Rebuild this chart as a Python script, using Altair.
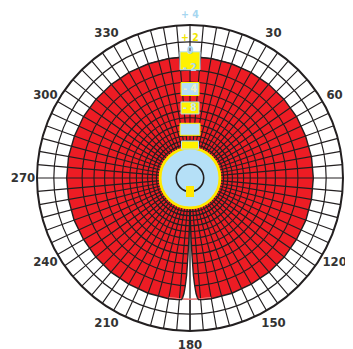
import math
import altair as alt
import pandas as pd

# ---------------- data ----------------
pattern_angle = [0, 10, 20, 30, 40, 50, 60, 70, 80, 90, 100, 110, 120, 130, 140, 150, 160, 170,
                 174, 176, 176.5, 177, 177.5, 178, 178.5, 179, 179.5, 180,
                 180.5, 181, 181.5, 182, 182.5, 183, 183.5, 184, 186,
                 190, 200, 210, 220, 230, 240, 250, 260, 270, 280, 290, 300, 310, 320, 330, 340, 350]
pattern_db = [0.0, 0.02, 0.05, 0.1, 0.15, 0.2, 0.25, 0.25, 0.3, 0.3, 0.3, 0.3, 0.25, 0.25, 0.25, 0.2, 0.2, 0.2,
              0.15, 0.1, -0.2, -0.8, -2.0, -3.8, -7.5, -12, -18, -24,
              -18, -12, -7.5, -3.8, -2.0, -0.8, -0.2, 0.1, 0.15,
              0.2, 0.2, 0.2, 0.25, 0.25, 0.25, 0.3, 0.3, 0.3, 0.3, 0.25, 0.25, 0.2, 0.15, 0.1, 0.05, 0.02]

grid_db_inner = [-2, -4, -6, -8, -10, -12, -14, -16, -18, -20, -22]
grid_db_ring = [0, 2]
spoke_angle = list(range(0, 360, 5))

compass_angle = [30, 60, 90, 120, 150, 180, 210, 240, 270, 300, 330]
compass_label = ["30", "60", "90", "120", "150", "180", "210", "240", "270", "300", "330"]

scale_label = ["+ 4", "+ 2", "0", "- 2", "- 4", "- 8"]
scale_label_db = [4, 2, 0, -2, -4, -8]
box_db = [0, -4, -8, -16, -24]

INNER_DB = -24
OUTER_DB = 4
NULL_FROM, NULL_TO = 176, 184

# ---------------- styles ----------------
SIZE = 306
RED = "#ed1c24"
LINE = "#231f20"
YEL = "#fff200"
LBLUE = "#b5e0f7"
TXT = "#333333"
FONT = "Liberation Sans Narrow, DejaVu Sans Condensed, Arial Narrow, sans-serif"

# label styles: colour, radial offset in px (outward positive)
label_style = {
    "+ 4": ("#a6d6f0", 10),
    "+ 2": ("#f2e600", 4),
    "0": ("#a6d6f0", 6),
    "- 2": ("#a6d6f0", 2),
    "- 4": ("#eef3c4", -7),
    "- 8": ("#c4e4f2", -6),
}
# box styles: fill, stroke, width, height, radial offset in px
box_style = {
    0: (YEL, LBLUE, 20, 18, -4),
    -4: (LBLUE, YEL, 18, 13, -7),
    -8: (YEL, LBLUE, 18, 12, -6),
    -16: (LBLUE, YEL, 20, 12, 1),
    -24: (YEL, LBLUE, 17, 8, 3),
}


def amp(expr):
    return f"pow(0.89, -({expr}) / 2)"


RMAX = 0.89 ** (-OUTER_DB / 2)
theta_sc = alt.Scale(type="linear", domain=[0, 360], range=[0, 2 * math.pi])
r_sc = alt.Scale(type="linear", domain=[0, RMAX], range=[0, SIZE / 2], zero=True, nice=False)
x_sc = alt.Scale(type="linear", domain=[-RMAX, RMAX], zero=False, nice=False)
y_sc = alt.Scale(type="linear", domain=[-RMAX, RMAX], zero=False, nice=False)


def arc_enc(t0, t1, r_outer, r_inner):
    return dict(
        theta=alt.Theta(f"{t0}:Q", scale=theta_sc, stack=False),
        theta2=alt.Theta2(t1),
        radius=alt.Radius(f"{r_outer}:Q", scale=r_sc),
        radius2=alt.Radius2(r_inner),
    )


def xy_enc(xf, yf):
    return dict(x=alt.X(f"{xf}:Q", scale=x_sc, axis=None),
                y=alt.Y(f"{yf}:Q", scale=y_sc, axis=None))


pat_df = pd.DataFrame({"angle": pattern_angle, "db": pattern_db})
pat = alt.Chart(pat_df).transform_calculate(a=amp("datum.db")).transform_calculate(
    px="datum.a * sin(datum.angle * PI / 180)",
    py="datum.a * cos(datum.angle * PI / 180)")


def circles(dbs, color, width):
    return alt.Chart(pd.DataFrame({"db": dbs})).transform_calculate(
        a=amp("datum.db"), t0="0", t1="360"
    ).mark_arc(fill="white", fillOpacity=0, stroke=color, strokeWidth=width).encode(
        **arc_enc("t0", "t1", "a", "a"))


spokes_base = alt.Chart(pd.DataFrame({"angle": spoke_angle})).transform_calculate(
    a0=amp(INNER_DB), a1=amp(OUTER_DB))

layers = []
# ring circles (0 dB drawn under the red pattern)
layers.append(circles(grid_db_ring, LINE, 1.2))
# red pattern fill
layers.append(pat.mark_line(interpolate="linear-closed", fill=RED, strokeOpacity=0).encode(
    order="angle:Q", **xy_enc("px", "py")))
# grid inside pattern
layers.append(circles(grid_db_inner, LINE, 1.15))
layers.append(spokes_base.mark_arc(fill="white", fillOpacity=0, stroke=LINE, strokeWidth=1.15).encode(
    **arc_enc("angle", "angle", "a1", "a0")))
# white null gap
layers.append(pat.transform_filter(
    f"datum.angle >= {NULL_FROM} && datum.angle <= {NULL_TO}"
).mark_line(interpolate="linear-closed", fill="white", strokeOpacity=0).encode(
    order="angle:Q", **xy_enc("px", "py")))
# 180 spoke through the gap
layers.append(spokes_base.transform_filter("datum.angle == 180").mark_arc(
    fill="white", fillOpacity=0, stroke=LINE, strokeWidth=1.3).encode(
    **arc_enc("angle", "angle", "a1", "a0")))
# faint red 0 dB circle visible in the gap
layers.append(alt.Chart(pd.DataFrame({"db": [0]})).transform_calculate(
    a=amp("datum.db"), t0="170", t1="190"
).mark_arc(fill="white", fillOpacity=0, stroke="#f07070", strokeWidth=0.9).encode(
    **arc_enc("t0", "t1", "a", "a")))
# pattern outline
layers.append(pat.mark_line(interpolate="linear-closed", stroke=LINE, strokeWidth=1.4).encode(
    order="angle:Q", **xy_enc("px", "py")))
# outer circle
layers.append(circles([OUTER_DB], LINE, 2.0))

# centre: light blue disc and yellow ring at the inner level
centre = alt.Chart(pd.DataFrame({"db": [INNER_DB]})).transform_calculate(
    a=amp("datum.db"), z="0", t0="0", t1="360")
layers.append(centre.mark_arc(fill=LBLUE, stroke="#6b7a3a", strokeWidth=0.6).encode(
    **arc_enc("t0", "t1", "a", "z")))
layers.append(centre.mark_arc(fill="white", fillOpacity=0, stroke="#ffe800", strokeWidth=2.8).encode(
    **arc_enc("t0", "t1", "a", "a")))

origin = alt.Chart(pd.DataFrame({"cx": [0], "cy": [0]}))
layers.append(origin.mark_point(shape="circle", size=750, filled=False, stroke=LINE,
                                strokeWidth=1.6, opacity=1).encode(**xy_enc("cx", "cy")))
layers.append(origin.mark_point(shape="M-0.73,-1L0.73,-1L0.73,1L-0.73,1Z", size=121, filled=True,
                                fill="#ffe600", strokeWidth=0, opacity=1, yOffset=13.5).encode(
    **xy_enc("cx", "cy")))

# scale boxes
box_df = pd.DataFrame({"db": box_db})
for d in box_db:
    fillc, strokec, w, h, off = box_style[d]
    k = h / w
    layers.append(alt.Chart(box_df).transform_filter(f"datum.db == {d}").transform_calculate(
        bx="0", by=amp("datum.db")
    ).mark_point(shape=f"M-1,-{k:.3f}L1,-{k:.3f}L1,{k:.3f}L-1,{k:.3f}Z", size=w * w, filled=True,
                 fill=fillc, stroke=strokec, strokeWidth=1, opacity=1, yOffset=-off).encode(
        **xy_enc("bx", "by")))

# scale labels
lab_df = pd.DataFrame({"label": scale_label, "db": scale_label_db})
for t in scale_label:
    col, off = label_style[t]
    layers.append(alt.Chart(lab_df).transform_filter(alt.datum.label == t).transform_calculate(
        bx="0", by=amp("datum.db")
    ).mark_text(font=FONT, fontSize=10.5, fontWeight="bold", color=col, baseline="middle",
                align="center", dy=-off).encode(text="label:N", **xy_enc("bx", "by")))

# compass labels
comp_df = pd.DataFrame({"angle": compass_angle, "label": compass_label})
layers.append(alt.Chart(comp_df).transform_calculate(a=amp(OUTER_DB)).mark_text(
    font=FONT, fontSize=13, fontWeight="bold", color=TXT, baseline="middle", align="center",
    radiusOffset=14).encode(
    theta=alt.Theta("angle:Q", scale=theta_sc, stack=False),
    radius=alt.Radius("a:Q", scale=r_sc),
    text="label:N"))

chart = alt.layer(*layers).properties(
    width=SIZE, height=SIZE,
    padding={"left": 29, "top": 17, "right": 2, "bottom": 20},
    autosize=alt.AutoSizeParams(type="none"),
    background="white",
).configure_view(strokeWidth=0)

chart.save("out.html", embed_options={"renderer": "svg", "actions": False})
